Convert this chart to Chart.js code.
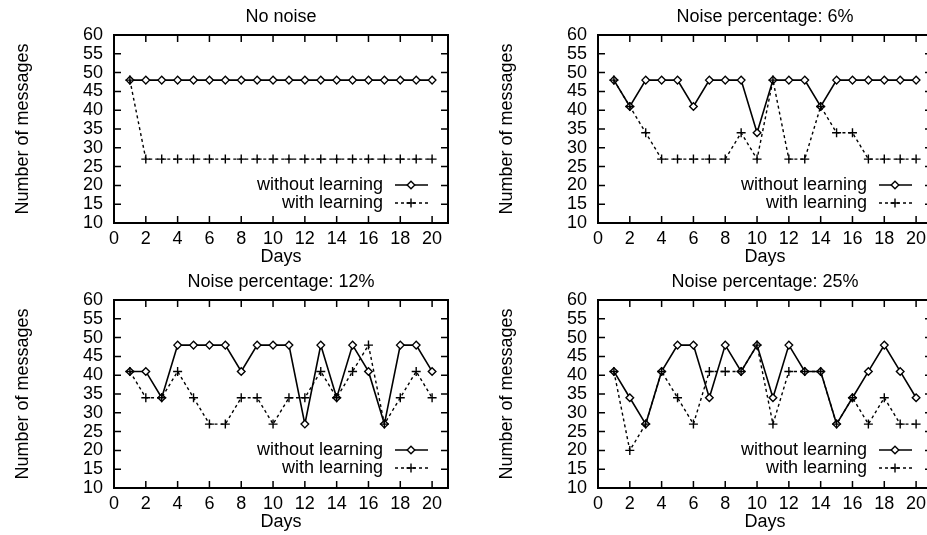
<!DOCTYPE html>
<html>
<head>
<meta charset="utf-8">
<title>Number of messages per day</title>
<script src="https://cdn.jsdelivr.net/npm/chart.js@4.4.0/dist/chart.umd.min.js"></script>
<style>
  html, body { margin: 0; padding: 0; background: #fff; overflow: hidden; }
  body { width: 927px; height: 535px; position: relative; }
  canvas { position: absolute; }
</style>
</head>
<body>
<canvas id="noNoise" width="470" height="268" style="left:0px;top:0px"></canvas>
<canvas id="noise6" width="470" height="268" style="left:484px;top:0px"></canvas>
<canvas id="noise12" width="470" height="268" style="left:0px;top:265px"></canvas>
<canvas id="noise25" width="470" height="268" style="left:484px;top:265px"></canvas>
<script>
// Data
const days = [1, 2, 3, 4, 5, 6, 7, 8, 9, 10, 11, 12, 13, 14, 15, 16, 17, 18, 19, 20];
const xTicks = [0, 2, 4, 6, 8, 10, 12, 14, 16, 18, 20];
const yTicks = [10, 15, 20, 25, 30, 35, 40, 45, 50, 55, 60];
const seriesNames = ['without learning', 'with learning'];

const noNoiseWithout = [48, 48, 48, 48, 48, 48, 48, 48, 48, 48, 48, 48, 48, 48, 48, 48, 48, 48, 48, 48];
const noNoiseWith = [48, 27, 27, 27, 27, 27, 27, 27, 27, 27, 27, 27, 27, 27, 27, 27, 27, 27, 27, 27];

const noise6Without = [48, 41, 48, 48, 48, 41, 48, 48, 48, 34, 48, 48, 48, 41, 48, 48, 48, 48, 48, 48];
const noise6With = [48, 41, 34, 27, 27, 27, 27, 27, 34, 27, 48, 27, 27, 41, 34, 34, 27, 27, 27, 27];

const noise12Without = [41, 41, 34, 48, 48, 48, 48, 41, 48, 48, 48, 27, 48, 34, 48, 41, 27, 48, 48, 41];
const noise12With = [41, 34, 34, 41, 34, 27, 27, 34, 34, 27, 34, 34, 41, 34, 41, 48, 27, 34, 41, 34];

const noise25Without = [41, 34, 27, 41, 48, 48, 34, 48, 41, 48, 34, 48, 41, 41, 27, 34, 41, 48, 41, 34];
const noise25With = [41, 20, 27, 41, 34, 27, 41, 41, 41, 48, 27, 41, 41, 41, 27, 34, 27, 34, 27, 27];

const FONT = '"Liberation Sans", Arial, Helvetica, sans-serif';
Chart.defaults.font.family = FONT;
Chart.defaults.font.size = 18;
Chart.defaults.color = '#000';

function drawMarker(ctx, style, x, y, r) {
    ctx.beginPath();
    if (style === 'rectRot') {
        ctx.moveTo(x, y - r);
        ctx.lineTo(x + r, y);
        ctx.lineTo(x, y + r);
        ctx.lineTo(x - r, y);
        ctx.closePath();
        ctx.fillStyle = '#fff';
        ctx.fill();
    } else {
        ctx.moveTo(x - r, y);
        ctx.lineTo(x + r, y);
        ctx.moveTo(x, y - r);
        ctx.lineTo(x, y + r);
    }
    ctx.stroke();
}

// gnuplot-like frame: border box, inward ticks on all four sides, key at bottom right
const gnuplotFrame = {
    id: 'gnuplotFrame',
    afterDatasetsDraw(chart) {
        const { ctx, chartArea: a, scales: { x, y } } = chart;
        ctx.save();
        ctx.strokeStyle = '#000';
        ctx.lineWidth = 1.5;
        ctx.setLineDash([]);
        ctx.beginPath();
        xTicks.forEach(v => {
            const px = x.getPixelForValue(v);
            if (px <= a.left + 1) return;
            ctx.moveTo(px, a.bottom);
            ctx.lineTo(px, a.bottom - 7);
            ctx.moveTo(px, a.top);
            ctx.lineTo(px, a.top + 7);
        });
        yTicks.forEach(v => {
            const py = y.getPixelForValue(v);
            if (py >= a.bottom - 1 || py <= a.top + 1) return;
            ctx.moveTo(a.left, py);
            ctx.lineTo(a.left + 7, py);
            ctx.moveTo(a.right, py);
            ctx.lineTo(a.right - 7, py);
        });
        ctx.stroke();
        ctx.lineWidth = 2;
        ctx.strokeRect(a.left, a.top, a.right - a.left, a.bottom - a.top);

        // key
        ctx.font = '18px ' + FONT;
        ctx.textAlign = 'right';
        ctx.textBaseline = 'middle';
        chart.data.datasets.forEach((ds, i) => {
            const ky = a.bottom - 38 + 18 * i;
            ctx.fillStyle = '#000';
            ctx.fillText(ds.label, a.right - 65, ky);
            ctx.lineWidth = ds.borderWidth;
            ctx.setLineDash(ds.borderDash || []);
            ctx.beginPath();
            ctx.moveTo(a.right - 53, ky);
            ctx.lineTo(a.right - 20, ky);
            ctx.stroke();
            ctx.setLineDash([]);
            ctx.lineWidth = ds.pointBorderWidth;
            drawMarker(ctx, ds.pointStyle, a.right - 37, ky, ds.pointRadius);
        });
        ctx.restore();
    }
};

function makeChart(id, title, without, withL) {
    const ctx = document.getElementById(id).getContext('2d');
    return new Chart(ctx, {
        type: 'line',
        data: {
            datasets: [{
                label: seriesNames[0],
                data: days.map((d, i) => ({ x: d, y: without[i] })),
                borderColor: '#000',
                borderWidth: 1.6,
                pointStyle: 'rectRot',
                pointRadius: 3.8,
                pointBorderWidth: 1.4,
                pointBorderColor: '#000',
                pointBackgroundColor: '#fff',
                tension: 0,
                order: 2
            }, {
                label: seriesNames[1],
                data: days.map((d, i) => ({ x: d, y: withL[i] })),
                borderColor: '#000',
                borderWidth: 1.4,
                borderDash: [3, 3],
                pointStyle: 'cross',
                pointRadius: 4.5,
                pointBorderWidth: 1.4,
                pointBorderColor: '#000',
                tension: 0,
                order: 1
            }]
        },
        options: {
            responsive: false,
            animation: false,
            layout: { padding: { left: 0, right: 22, top: 0, bottom: 0 } },
            plugins: {
                legend: { display: false },
                tooltip: { enabled: false },
                title: {
                    display: true,
                    fullSize: false,
                    text: title,
                    color: '#000',
                    font: { size: 18, weight: 'normal', lineHeight: 1.2 },
                    padding: { top: 6, bottom: 7.4 }
                }
            },
            scales: {
                x: {
                    type: 'linear',
                    min: 0,
                    max: 21,
                    afterBuildTicks: s => { s.ticks = xTicks.map(v => ({ value: v })); },
                    afterFit: s => { s.height = 45; },
                    grid: { display: false, drawTicks: false },
                    border: { display: false },
                    ticks: { autoSkip: false, maxRotation: 0, padding: 5, font: { size: 18 } },
                    title: {
                        display: true,
                        text: 'Days',
                        font: { size: 18, lineHeight: 1.2 },
                        padding: { top: 0, bottom: 0 }
                    }
                },
                y: {
                    min: 10,
                    max: 60,
                    afterBuildTicks: s => { s.ticks = yTicks.map(v => ({ value: v })); },
                    afterFit: s => { s.width = 114; },
                    grid: { display: false, drawTicks: false },
                    border: { display: false },
                    ticks: { autoSkip: false, padding: 11, font: { size: 18 } },
                    title: {
                        display: true,
                        text: 'Number of messages',
                        font: { size: 18, lineHeight: 1.2 },
                        padding: { top: 12, bottom: 0 }
                    }
                }
            }
        },
        plugins: [gnuplotFrame]
    });
}

makeChart('noNoise', 'No noise', noNoiseWithout, noNoiseWith);
makeChart('noise6', 'Noise percentage: 6%', noise6Without, noise6With);
makeChart('noise12', 'Noise percentage: 12%', noise12Without, noise12With);
makeChart('noise25', 'Noise percentage: 25%', noise25Without, noise25With);
</script>
</body>
</html>
